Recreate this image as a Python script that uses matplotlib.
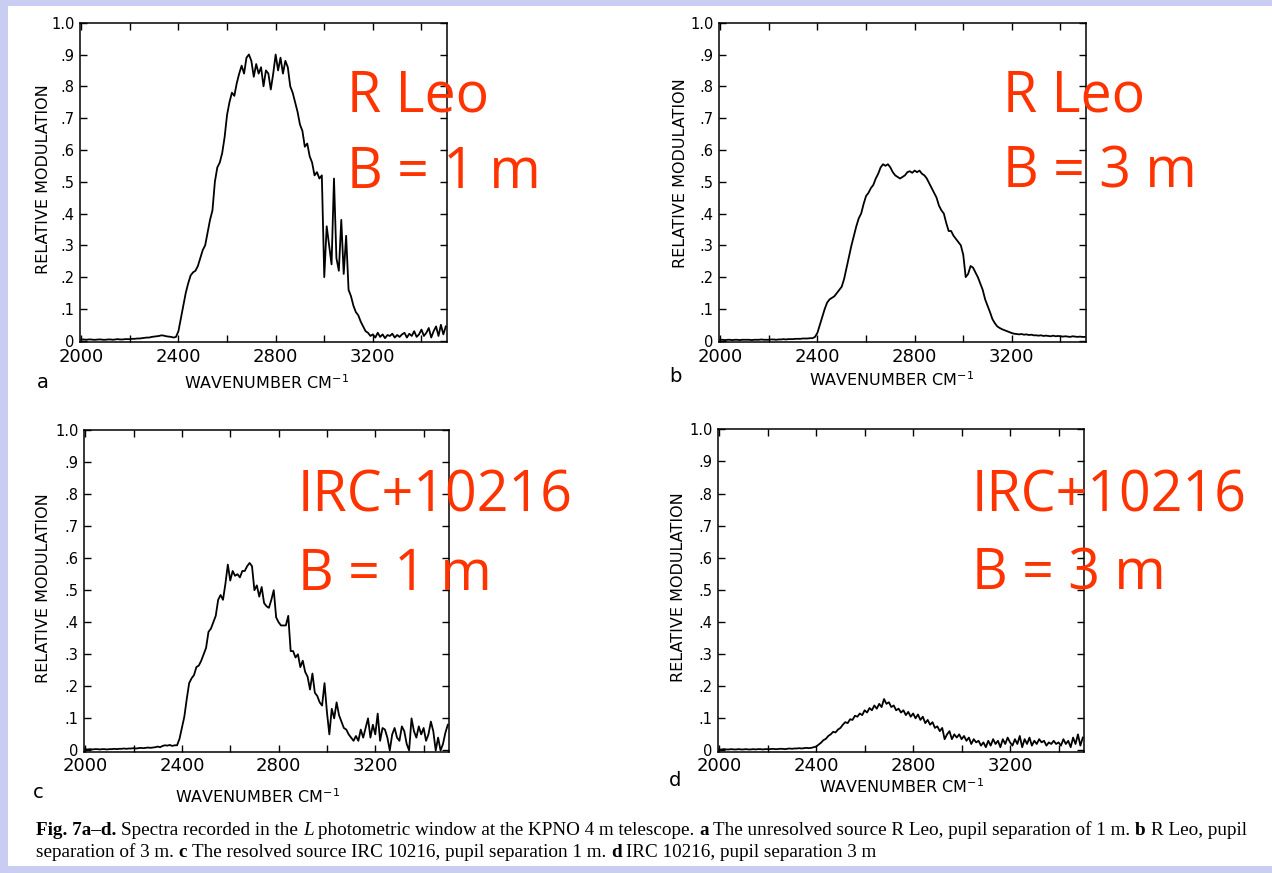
import matplotlib
matplotlib.use('Agg')
import matplotlib.pyplot as plt
from matplotlib.patches import Rectangle
from matplotlib.ticker import MultipleLocator, FuncFormatter
import numpy as np

# wavenumber grid (cm^-1), one sample every 10 cm^-1
wavenumber = np.arange(2000, 3501, 10)

# a: R Leo, B = 1 m
mod_a = [0.004, 0.004, 0.003, 0.004, 0.004, 0.003, 0.003, 0.004, 0.004, 0.003,
         0.003, 0.004, 0.004, 0.003, 0.004, 0.005, 0.004, 0.004, 0.005, 0.005,
         0.005, 0.006, 0.006, 0.007, 0.007, 0.008, 0.009, 0.010, 0.010, 0.012,
         0.013, 0.014, 0.015, 0.017, 0.016, 0.014, 0.013, 0.012, 0.010, 0.012,
         0.030, 0.070, 0.110, 0.150, 0.180, 0.205, 0.215, 0.220, 0.235, 0.260,
         0.285, 0.300, 0.340, 0.380, 0.410, 0.500, 0.545, 0.560, 0.590, 0.640,
         0.710, 0.750, 0.780, 0.770, 0.810, 0.840, 0.865, 0.840, 0.890, 0.900,
         0.880, 0.830, 0.870, 0.840, 0.860, 0.800, 0.850, 0.840, 0.790, 0.840,
         0.900, 0.850, 0.890, 0.840, 0.880, 0.860, 0.800, 0.780, 0.750, 0.720,
         0.680, 0.660, 0.610, 0.620, 0.580, 0.560, 0.520, 0.530, 0.510, 0.520,
         0.200, 0.360, 0.300, 0.240, 0.510, 0.260, 0.220, 0.380, 0.210, 0.330,
         0.160, 0.140, 0.110, 0.090, 0.080, 0.060, 0.045, 0.030, 0.025, 0.015,
         0.020, 0.010, 0.025, 0.012, 0.020, 0.008, 0.018, 0.015, 0.022, 0.010,
         0.018, 0.012, 0.020, 0.025, 0.010, 0.022, 0.015, 0.030, 0.012, 0.020,
         0.035, 0.015, 0.025, 0.040, 0.010, 0.030, 0.045, 0.015, 0.050, 0.020,
         0.045]

# b: R Leo, B = 3 m
mod_b = [0.003, 0.003, 0.002, 0.003, 0.003, 0.002, 0.003, 0.003, 0.002, 0.003,
         0.003, 0.003, 0.003, 0.002, 0.003, 0.003, 0.003, 0.004, 0.003, 0.003,
         0.003, 0.004, 0.004, 0.003, 0.004, 0.004, 0.005, 0.004, 0.005, 0.005,
         0.005, 0.006, 0.006, 0.006, 0.007, 0.007, 0.007, 0.008, 0.008, 0.012,
         0.025, 0.050, 0.075, 0.100, 0.120, 0.130, 0.135, 0.140, 0.150, 0.160,
         0.170, 0.195, 0.230, 0.265, 0.300, 0.330, 0.360, 0.385, 0.400, 0.430,
         0.455, 0.465, 0.480, 0.490, 0.510, 0.525, 0.545, 0.555, 0.550, 0.555,
         0.545, 0.530, 0.520, 0.515, 0.510, 0.515, 0.520, 0.530, 0.533, 0.528,
         0.535, 0.530, 0.535, 0.525, 0.520, 0.510, 0.495, 0.480, 0.465, 0.450,
         0.425, 0.410, 0.400, 0.370, 0.345, 0.345, 0.330, 0.320, 0.310, 0.300,
         0.270, 0.200, 0.210, 0.235, 0.230, 0.215, 0.200, 0.180, 0.160, 0.130,
         0.110, 0.090, 0.068, 0.055, 0.045, 0.040, 0.036, 0.033, 0.030, 0.027,
         0.024, 0.022, 0.021, 0.020, 0.021, 0.019, 0.020, 0.018, 0.019, 0.017,
         0.017, 0.016, 0.017, 0.015, 0.016, 0.015, 0.014, 0.016, 0.014, 0.015,
         0.014, 0.013, 0.014, 0.013, 0.012, 0.014, 0.013, 0.012, 0.013, 0.012,
         0.012]

# c: IRC+10216, B = 1 m
mod_c = [0.004, 0.003, 0.004, 0.003, 0.004, 0.004, 0.003, 0.004, 0.004, 0.003,
         0.004, 0.004, 0.005, 0.004, 0.005, 0.005, 0.006, 0.005, 0.006, 0.006,
         0.007, 0.006, 0.007, 0.008, 0.007, 0.008, 0.009, 0.008, 0.009, 0.010,
         0.012, 0.010, 0.014, 0.016, 0.015, 0.017, 0.014, 0.016, 0.016, 0.036,
         0.070, 0.105, 0.160, 0.210, 0.225, 0.235, 0.260, 0.265, 0.280, 0.300,
         0.320, 0.370, 0.380, 0.400, 0.420, 0.470, 0.485, 0.470, 0.520, 0.580,
         0.530, 0.560, 0.545, 0.550, 0.540, 0.560, 0.560, 0.575, 0.585, 0.575,
         0.500, 0.515, 0.480, 0.510, 0.460, 0.450, 0.445, 0.470, 0.500, 0.415,
         0.400, 0.390, 0.390, 0.390, 0.420, 0.310, 0.310, 0.290, 0.300, 0.260,
         0.280, 0.245, 0.230, 0.190, 0.240, 0.180, 0.170, 0.150, 0.140, 0.210,
         0.120, 0.050, 0.130, 0.100, 0.150, 0.110, 0.090, 0.070, 0.065, 0.050,
         0.040, 0.030, 0.045, 0.030, 0.065, 0.040, 0.070, 0.100, 0.040, 0.080,
         0.050, 0.115, 0.030, 0.070, 0.065, 0.040, 0.000, 0.050, 0.070, 0.040,
         0.030, 0.075, 0.060, 0.020, 0.000, 0.100, 0.060, 0.040, 0.075, 0.050,
         0.070, 0.030, 0.050, 0.090, 0.060, 0.000, 0.040, 0.000, 0.020, 0.055,
         0.080]

# d: IRC+10216, B = 3 m
mod_d = [0.003, 0.003, 0.004, 0.003, 0.003, 0.004, 0.003, 0.003, 0.004, 0.003,
         0.003, 0.004, 0.003, 0.003, 0.004, 0.003, 0.004, 0.004, 0.003, 0.004,
         0.004, 0.004, 0.005, 0.004, 0.004, 0.005, 0.005, 0.004, 0.005, 0.006,
         0.005, 0.006, 0.006, 0.007, 0.006, 0.007, 0.008, 0.007, 0.008, 0.010,
         0.012, 0.018, 0.024, 0.032, 0.036, 0.045, 0.050, 0.058, 0.056, 0.065,
         0.070, 0.080, 0.088, 0.085, 0.097, 0.095, 0.108, 0.105, 0.115, 0.110,
         0.125, 0.118, 0.132, 0.125, 0.140, 0.130, 0.145, 0.135, 0.160, 0.145,
         0.150, 0.135, 0.140, 0.125, 0.130, 0.118, 0.125, 0.110, 0.120, 0.105,
         0.115, 0.100, 0.112, 0.095, 0.105, 0.085, 0.095, 0.080, 0.088, 0.070,
         0.075, 0.060, 0.070, 0.035, 0.050, 0.060, 0.035, 0.050, 0.040, 0.050,
         0.035, 0.045, 0.030, 0.040, 0.020, 0.035, 0.025, 0.030, 0.015, 0.025,
         0.010, 0.030, 0.015, 0.035, 0.020, 0.030, 0.010, 0.035, 0.020, 0.040,
         0.025, 0.015, 0.035, 0.020, 0.045, 0.010, 0.035, 0.020, 0.040, 0.015,
         0.030, 0.020, 0.035, 0.025, 0.030, 0.015, 0.025, 0.020, 0.030, 0.020,
         0.025, 0.015, 0.035, 0.020, 0.030, 0.010, 0.040, 0.020, 0.050, 0.015,
         0.040]

panel_letters = ['a', 'b', 'c', 'd']
star_names = ['R Leo', 'R Leo', 'IRC+10216', 'IRC+10216']
baselines = ['B = 1 m', 'B = 3 m', 'B = 1 m', 'B = 3 m']

W, H = 1272, 873
fig = plt.figure(figsize=(W / 100, H / 100), dpi=100, facecolor='#c9cdf1')
# white page of the scanned paper
fig.add_artist(Rectangle((8 / W, 1 - 866 / H), 1, (866 - 6) / H,
                         transform=fig.transFigure, facecolor='white',
                         edgecolor='none', zorder=0))


def px(x, y):
    return x / W, 1 - y / H


def yfmt(v, pos):
    if abs(v) < 1e-9:
        return '0'
    if abs(v - 1) < 1e-9:
        return '1.0'
    return '.%d' % round(v * 10)


def xfmt(v, pos):
    return '%d' % v if round(v) % 400 == 0 else ''


# axes boxes in pixels: left, top, right, bottom
boxes = [(80, 22.7, 447, 342), (719, 22.7, 1086, 342),
         (84, 430, 449, 751.7), (718, 429.3, 1084, 751.7)]
xlab_pos = [(0.507, -0.128), (0.47, -0.119), (0.475, -0.14), (0.502, -0.109)]
ylab_pos = [(-0.10, 0.51), (-0.106, 0.53), (-0.111, 0.509), (-0.109, 0.511)]
letter_pos = [(43, 383), (675, 377), (38, 793), (675, 780)]
red_pos = [(347, 112, 188), (1003, 112, 188), (298, 512, 590), (972, 512, 590)]

for i, mod in enumerate([mod_a, mod_b, mod_c, mod_d]):
    l, t, r, b = boxes[i]
    ax = fig.add_axes([l / W, 1 - b / H, (r - l) / W, (b - t) / H])
    ax.plot(wavenumber, mod, color='black', lw=1.3)
    ax.set_xlim(1995, 3505)
    ax.set_ylim(-0.004, 1.0)
    ax.xaxis.set_major_locator(MultipleLocator(200))
    ax.yaxis.set_major_locator(MultipleLocator(0.1))
    ax.xaxis.set_major_formatter(FuncFormatter(xfmt))
    ax.yaxis.set_major_formatter(FuncFormatter(yfmt))
    ax.tick_params(direction='in', top=True, right=True, length=5, width=1.0)
    ax.tick_params(axis='x', labelsize=13, pad=4)
    ax.tick_params(axis='y', labelsize=10.5, pad=4)
    for s in ax.spines.values():
        s.set_linewidth(1.1)
    ax.set_xlabel('WAVENUMBER CM$^{-1}$', fontsize=11.5, va='center')
    ax.set_ylabel('RELATIVE MODULATION', fontsize=11.5, va='center')
    ax.xaxis.set_label_coords(*xlab_pos[i])
    ax.yaxis.set_label_coords(*ylab_pos[i])

    fig.text(*px(*letter_pos[i]), panel_letters[i], fontsize=14,
             ha='center', va='center')
    rx, y1, y2 = red_pos[i]
    fig.text(*px(rx, y1), star_names[i], fontsize=40, family='Open Sans',
             color='#ff3300', va='baseline', ha='left')
    fig.text(*px(rx, y2), baselines[i], fontsize=40, family='Open Sans',
             color='#ff3300', va='baseline', ha='left')

# caption, written run by run so bold / italic words can be mixed
cap_kw = dict(fontsize=13.8, family='Liberation Serif', va='baseline')
renderer = fig.canvas.get_renderer()
probe1 = fig.text(0, 0, 'x x', **cap_kw)
probe2 = fig.text(0, 0, 'xx', **cap_kw)
space = (probe1.get_window_extent(renderer).width
         - probe2.get_window_extent(renderer).width) / W
probe1.remove()
probe2.remove()

caption = [
    (835, [('Fig. 7a–d.', 'bold', 'normal'),
           ('Spectra recorded in the', 'normal', 'normal'),
           ('L', 'normal', 'italic'),
           ('photometric window at the KPNO 4 m telescope.', 'normal', 'normal'),
           ('a', 'bold', 'normal'),
           ('The unresolved source R Leo, pupil separation of 1 m.', 'normal', 'normal'),
           ('b', 'bold', 'normal'),
           ('R Leo, pupil', 'normal', 'normal')]),
    (857, [('separation of 3 m.', 'normal', 'normal'),
           ('c', 'bold', 'normal'),
           ('The resolved source IRC 10216, pupil separation 1 m.', 'normal', 'normal'),
           ('d', 'bold', 'normal'),
           ('IRC 10216, pupil separation 3 m', 'normal', 'normal')]),
]
for ybase, runs in caption:
    x = 36 / W
    for txt, weight, style in runs:
        tt = fig.text(x, 1 - ybase / H, txt, fontweight=weight,
                      fontstyle=style, **cap_kw)
        x += tt.get_window_extent(renderer).width / W + space

fig.savefig('out.png', dpi=100, facecolor=fig.get_facecolor())
